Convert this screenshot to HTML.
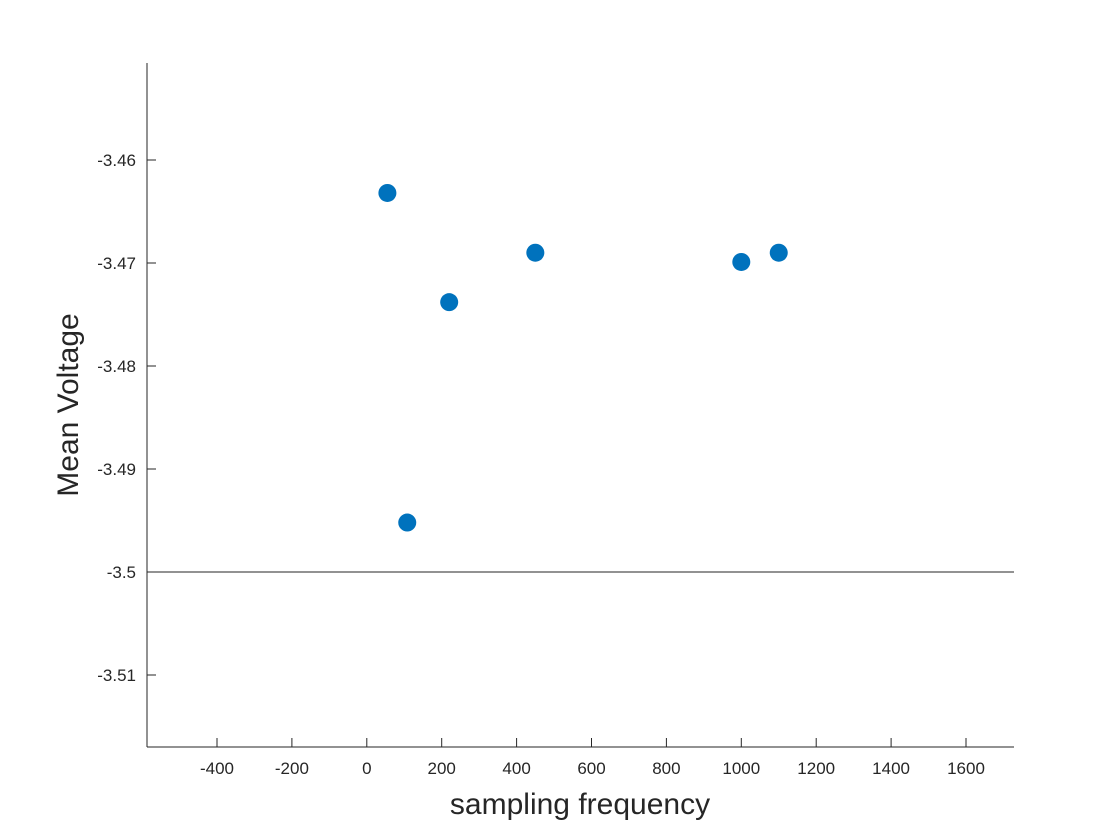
<!DOCTYPE html>
<html><head><meta charset="utf-8"><style>
body{margin:0;background:#fff;}
svg{display:block;font-family:"Liberation Sans",sans-serif;}
</style></head><body>
<svg id="chart" width="1120" height="840" viewBox="0 0 1120 840">
<rect width="1120" height="840" fill="#fff"/>
<g id="axes"></g>
<g id="marks"></g>
<text x="580" y="814" text-anchor="middle" font-size="30" fill="#262626">sampling frequency</text>
<text transform="translate(78,405) rotate(-90)" text-anchor="middle" font-size="30" fill="#262626">Mean Voltage</text>
</svg>
<script>
const xValues=[55,108,220,450,1000,1100];
const yValues=[-3.4632,-3.4952,-3.4738,-3.4690,-3.4699,-3.4690];
const xTicks=[-400,-200,0,200,400,600,800,1000,1200,1400,1600];
const yTicks=[-3.46,-3.47,-3.48,-3.49,-3.5,-3.51];
const yTickLabels=["-3.46","-3.47","-3.48","-3.49","-3.5","-3.51"];
const refLine=-3.5;
const L=147,R=1014,T=63,B=747;
const sx=v=>366.8+v*0.3745;
const sy=v=>160+(-3.46-v)/0.01*103;
const NS="http://www.w3.org/2000/svg";
function mk(tag,attrs,parent){const e=document.createElementNS(NS,tag);for(const k in attrs)e.setAttribute(k,attrs[k]);parent.appendChild(e);return e;}
const ax=document.getElementById('axes'),mg=document.getElementById('marks');
let e=mk('line',{x1:L,y1:T,x2:L,y2:B,stroke:'#262626','stroke-width':1},ax);


e=mk('line',{x1:L,y1:B,x2:R,y2:B,stroke:'#262626','stroke-width':1},ax);


e=mk('line',{x1:L,y1:sy(refLine),x2:R,y2:sy(refLine),stroke:'#262626','stroke-width':1},ax);


xTicks.forEach(v=>{const x=sx(v);
 mk('line',{x1:x,y1:B,x2:x,y2:B-9,stroke:'#262626'},ax);
 const t=mk('text',{x:x,y:B+27,'text-anchor':'middle','font-size':'17',fill:'#262626'},ax);t.textContent=v;
 
 
});
yTicks.forEach((v,i)=>{const y=sy(v);
 mk('line',{x1:L,y1:y,x2:L+9,y2:y,stroke:'#262626'},ax);
 const t=mk('text',{x:L-11,y:y+6,'text-anchor':'end','font-size':'17',fill:'#262626'},ax);t.textContent=yTickLabels[i];
 
 
});
xValues.forEach((v,i)=>{
 const c=mk('circle',{cx:sx(v),cy:sy(yValues[i]),r:9,fill:'#0072BD'},mg);
 
 
});
</script>
</body></html>
